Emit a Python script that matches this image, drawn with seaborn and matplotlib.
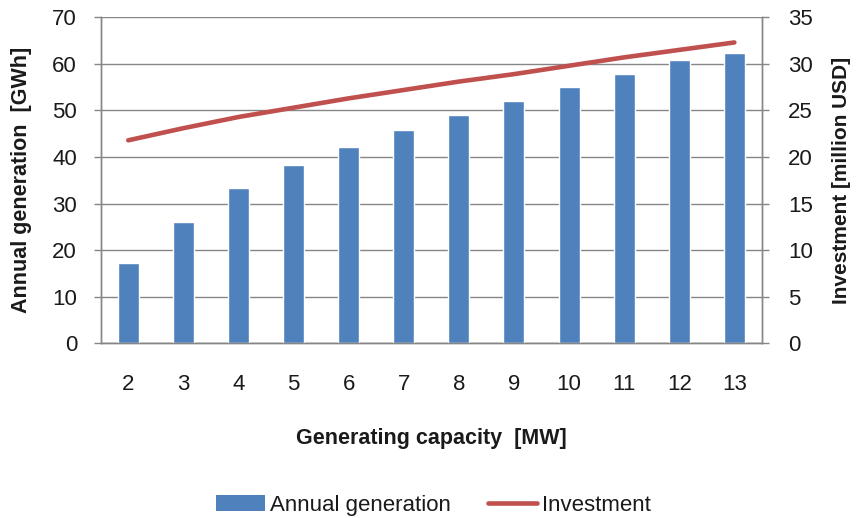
import numpy as np
import pandas as pd
import seaborn as sns
import matplotlib.pyplot as plt
from matplotlib.patches import Patch
from matplotlib.lines import Line2D

# data
capacity = ["2", "3", "4", "5", "6", "7", "8", "9", "10", "11", "12", "13"]
annual_generation = [17.3, 26.0, 33.4, 38.4, 42.2, 45.8, 49.1, 52.0, 55.0, 57.9, 60.8, 62.4]
investment = [21.8, 23.1, 24.3, 25.3, 26.3, 27.2, 28.1, 28.9, 29.8, 30.7, 31.5, 32.3]

df = pd.DataFrame({"capacity": capacity,
                   "generation": annual_generation,
                   "investment": investment})

sns.set_theme(style="white")
plt.rcParams["font.family"] = ["Liberation Sans", "DejaVu Sans"]

blue = "#4F81BD"
red = "#C0504D"
grey = "#868686"
txt = "#1a1a1a"

fig = plt.figure(figsize=(8.58, 5.18), dpi=100)
ax = fig.add_axes([0.1174, 0.337, 0.7706, 0.6296])

sns.barplot(data=df, x="capacity", y="generation", color=blue, width=0.38,
            saturation=1, ax=ax, zorder=3)

ax2 = ax.twinx()
sns.pointplot(data=df, x="capacity", y="investment", color=red, markers="",
              linestyles="-", linewidth=3.3, ax=ax2, zorder=4)

ax.set_ylim(0, 70)
ax.set_yticks(np.arange(0, 71, 10))
ax2.set_ylim(0, 35)
ax2.set_yticks(np.arange(0, 36, 5))
ax.set_xlim(-0.5, len(capacity) - 0.5)
ax2.set_xlim(-0.5, len(capacity) - 0.5)

ax.yaxis.grid(True, color=grey, linewidth=1.0, zorder=0)
ax.set_axisbelow(True)

for a in (ax, ax2):
    a.spines["top"].set_visible(False)
    for s in ("left", "right", "bottom"):
        a.spines[s].set_color(grey)
        a.spines[s].set_linewidth(1.0)

# x ticks sit between categories, labels at the centres
ax.set_xticks(np.arange(-0.5, len(capacity), 1.0), minor=True)
ax.tick_params(axis="x", which="minor", length=5, color=grey, width=1.0, direction="out")
ax.tick_params(axis="x", which="major", length=0, pad=22, labelsize=16, labelcolor=txt)
ax.tick_params(axis="y", length=5, color=grey, width=1.0, direction="out",
               labelsize=16, labelcolor=txt, pad=12, left=True)
ax2.tick_params(axis="y", length=5, color=grey, width=1.0, direction="out",
                labelsize=16, labelcolor=txt, pad=14, right=True)

ax.set_xlabel("Generating capacity  [MW]", fontsize=15.5, fontweight="bold",
              color=txt, labelpad=24)
ax.set_ylabel("Annual generation  [GWh]", fontsize=15.5, fontweight="bold",
              color=txt)
ax2.set_ylabel("Investment [million USD]", fontsize=15, fontweight="bold",
               color=txt)
ax.yaxis.set_label_coords(-0.104, 0.5)
ax2.yaxis.set_label_coords(1.106, 0.5)

handles = [Patch(facecolor=blue, edgecolor="none"),
           Line2D([], [], color=red, linewidth=3.3)]
fig.legend(handles, ["Annual generation", "Investment"], loc="center",
           bbox_to_anchor=(0.505, 0.025), ncol=2, frameon=False, fontsize=16,
           handlelength=2.2, handletextpad=0.2, columnspacing=1.7,
           labelcolor=txt)

fig.savefig("out.png", dpi=100)
